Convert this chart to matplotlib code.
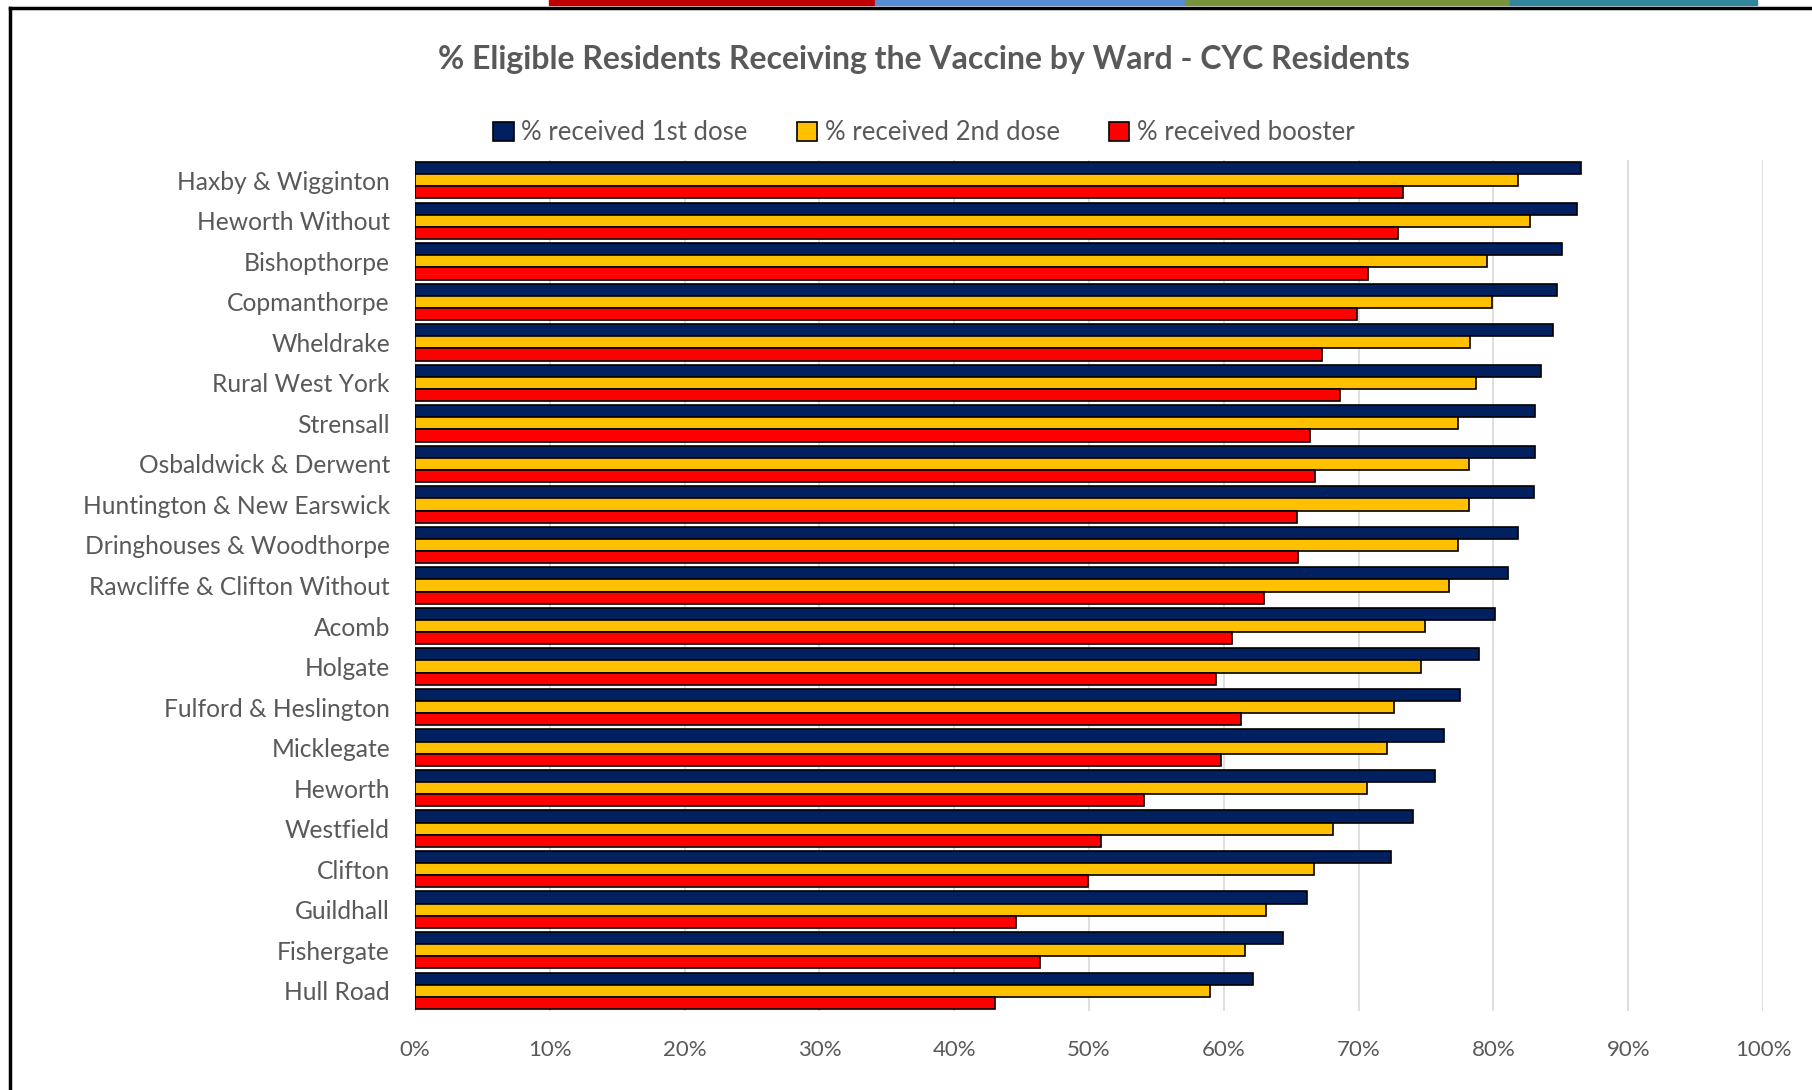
import matplotlib
matplotlib.use("Agg")
import matplotlib.pyplot as plt
from matplotlib.patches import Rectangle
from matplotlib.lines import Line2D
from matplotlib.ticker import PercentFormatter
import numpy as np

wards = ["Haxby & Wigginton", "Heworth Without", "Bishopthorpe", "Copmanthorpe",
         "Wheldrake", "Rural West York", "Strensall", "Osbaldwick & Derwent",
         "Huntington & New Earswick", "Dringhouses & Woodthorpe",
         "Rawcliffe & Clifton Without", "Acomb", "Holgate", "Fulford & Heslington",
         "Micklegate", "Heworth", "Westfield", "Clifton", "Guildhall",
         "Fishergate", "Hull Road"]
first_dose = [86.5, 86.2, 85.1, 84.7, 84.4, 83.5, 83.1, 83.1, 83.0, 81.8, 81.1,
              80.1, 78.9, 77.5, 76.3, 75.7, 74.0, 72.4, 66.2, 64.4, 62.2]
second_dose = [81.8, 82.7, 79.5, 79.9, 78.3, 78.7, 77.4, 78.2, 78.2, 77.4, 76.7,
               74.9, 74.6, 72.6, 72.1, 70.6, 68.1, 66.7, 63.1, 61.6, 59.0]
booster = [73.3, 72.9, 70.7, 69.9, 67.3, 68.6, 66.4, 66.8, 65.4, 65.5, 63.0,
           60.6, 59.4, 61.3, 59.8, 54.1, 50.9, 49.9, 44.6, 46.4, 43.0]
series_labels = ["% received 1st dose", "% received 2nd dose", "% received booster"]
title = "% Eligible Residents Receiving the Vaccine by Ward - CYC Residents"

colors = ["#002060", "#FFC000", "#FF0000"]
txt = "#595959"
FONT = "Lato"

W, H = 1812, 1090
fig = plt.figure(figsize=(W / 100, H / 100), dpi=100)
fig.patch.set_facecolor("white")

# top coloured strip
strip = [(549, 875, "#C00000"), (875, 1185, "#558ED5"), (1185, 1510, "#77933C"), (1510, 1757, "#31859C")]
for x0, x1, c in strip:
    fig.patches.append(Rectangle((x0 / W, 1 - 5 / H), (x1 - x0) / W, 5 / H,
                                 transform=fig.transFigure, color=c, zorder=5))
# frame lines
fig.add_artist(Line2D([10 / W, 1], [1 - 8 / H, 1 - 8 / H], color="black", lw=2.5, transform=fig.transFigure))
fig.add_artist(Line2D([10 / W, 10 / W], [0, 1 - 8 / H], color="black", lw=2.5, transform=fig.transFigure))

ax = fig.add_axes([415 / W, 1 - 1011 / H, (1763 - 415) / W, (1011 - 160) / H])

y = np.arange(len(wards))
h = 0.3
for i, (vals, c, lab) in enumerate(zip([first_dose, second_dose, booster], colors, series_labels)):
    ax.barh(y + (i - 1) * h, vals, height=h, color=c, edgecolor="black", linewidth=1.2,
            label=lab, zorder=3)

ax.set_xlim(0, 100)
ax.set_ylim(len(wards) - 0.5, -0.5)
ax.set_xticks(np.arange(0, 101, 10))
ax.xaxis.set_major_formatter(PercentFormatter(decimals=0))
ax.set_yticks(y)
ax.set_yticklabels(wards)
ax.grid(axis="x", color="#D9D9D9", lw=1.2, zorder=0)
for s in ["top", "right", "bottom"]:
    ax.spines[s].set_visible(False)
ax.spines["left"].set_color("#D9D9D9")
ax.tick_params(axis="both", length=0, colors=txt)
ax.tick_params(axis="y", pad=18, labelsize=17.7)
ax.tick_params(axis="x", pad=21, labelsize=16)
for lbl in ax.get_xticklabels() + ax.get_yticklabels():
    lbl.set_fontfamily(FONT)

fig.text(924 / W, 1 - 59 / H, title, ha="center", va="center", fontsize=23,
         color=txt, family=FONT, fontweight="bold")
leg = fig.legend(loc="center", bbox_to_anchor=(924 / W, 1 - 133 / H), ncol=3, frameon=False,
                 prop={"family": FONT, "size": 18.5}, handlelength=0.8, handleheight=0.8,
                 handletextpad=0.3, columnspacing=1.9, labelcolor=txt)

fig.savefig("out.png", dpi=100, facecolor="white")
